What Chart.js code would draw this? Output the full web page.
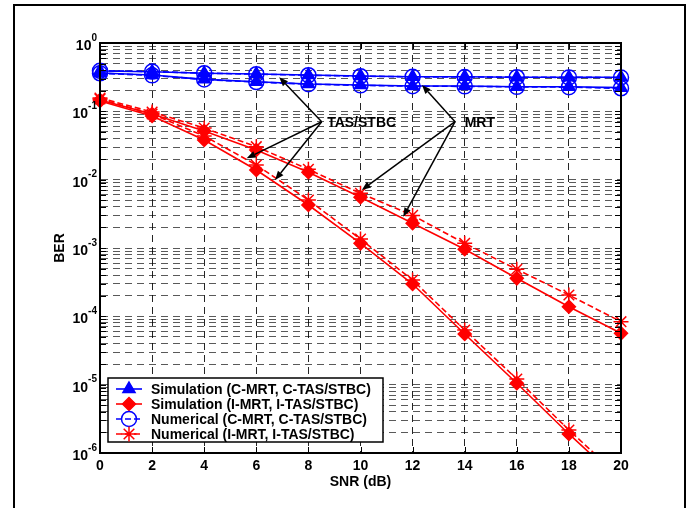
<!DOCTYPE html>
<html><head><meta charset="utf-8">
<script src="https://cdn.jsdelivr.net/npm/chart.js@4.4.1/dist/chart.umd.min.js"></script>
<style>html,body{margin:0;padding:0;background:#fff;}#wrap{width:692px;height:508px;}</style>
</head><body><div id="wrap"><canvas id="c" width="692" height="508"></canvas></div>
<script>
// ---- data ----
const snr = [0, 2, 4, 6, 8, 10, 12, 14, 16, 18, 20];
const xTicks = [0, 2, 4, 6, 8, 10, 12, 14, 16, 18, 20];
const yDecadeExps = [0, -1, -2, -3, -4, -5, -6];

// blue: C-MRT / C-TAS/STBC
const simC_TAS = [0.389, 0.380, 0.360, 0.352, 0.340, 0.329, 0.321, 0.321, 0.315, 0.315, 0.315];
const numC_TAS = [0.392, 0.382, 0.362, 0.350, 0.338, 0.327, 0.320, 0.318, 0.316, 0.314, 0.313];
const simC_MRT = [0.364, 0.340, 0.294, 0.271, 0.251, 0.243, 0.235, 0.235, 0.229, 0.229, 0.222];
const numC_MRT = [0.360, 0.336, 0.292, 0.268, 0.250, 0.240, 0.233, 0.232, 0.228, 0.226, 0.217];
// red: I-MRT / I-TAS/STBC
const simI_TAS = [0.1416, 0.0855, 0.0380, 0.01385, 0.00426, 0.00117, 0.000297, 5.51e-5, 1.05e-5, 1.90e-6, 3.77e-7];
const numI_TAS = [0.1515, 0.0914, 0.0436, 0.0164, 0.00504, 0.00135, 0.000340, 6.31e-5, 1.21e-5, 2.17e-6, 4.3e-7];
const simI_MRT = [0.1466, 0.0914, 0.0515, 0.0272, 0.01282, 0.00552, 0.00230, 0.000958, 0.000360, 0.000138, 5.64e-5];
const numI_MRT = [0.1567, 0.0978, 0.0570, 0.0304, 0.01418, 0.00632, 0.00300, 0.00117, 0.000488, 0.000205, 8.35e-5];

const legendLabels = [
  'Simulation (C-MRT, C-TAS/STBC)',
  'Simulation (I-MRT, I-TAS/STBC)',
  'Numerical (C-MRT, C-TAS/STBC)',
  'Numerical (I-MRT, I-TAS/STBC)'
];
const xTitle = 'SNR (dB)';
const yTitle = 'BER';

// annotation arrows in data space
const annTexts = ['TAS/STBC', 'MRT'];
const annTextAt = [[8.72, 0.067], [14.0, 0.067]];
const annFrom = [[8.51, 0.0705], [13.63, 0.0705]];
const annTo = [
  [[6.88, 0.315], [5.63, 0.0205], [6.72, 0.00989]],
  [[12.36, 0.243], [10.05, 0.00706], [11.64, 0.00287]]
];

// ---- styles ----
const FONT = '"Liberation Sans", Arial, Helvetica, sans-serif';
const kinds = [
  {color: '#0000ff', dash: [], pointStyle: 'triangle', radius: 7, fill: '#0000ff'},
  {color: '#ff0000', dash: [], pointStyle: 'rectRot', radius: 6.5, fill: '#ff0000'},
  {color: '#0000ff', dash: [6, 3], pointStyle: 'circle', radius: 7.5, fill: 'rgba(0,0,0,0)'},
  {color: '#ff0000', dash: [6, 3], pointStyle: 'star', radius: 7.5, fill: '#ff0000'}
];

const yGrid = [];
for (let e = -6; e <= -1; e++) for (let m = 1; m <= 9; m++) yGrid.push(parseFloat((m * Math.pow(10, e)).toPrecision(6)));
yGrid.push(1);

function ds(series, kindIdx, labelIdx, clipBottom) {
  const k = kinds[kindIdx];
  return {
    label: legendLabels[labelIdx],
    data: snr.map((x, i) => ({x: x, y: series[i]})),
    borderColor: k.color,
    borderWidth: 1.6,
    borderDash: k.dash,
    pointStyle: k.pointStyle,
    pointRadius: k.radius,
    pointHoverRadius: k.radius,
    pointBackgroundColor: k.fill,
    pointBorderColor: k.color,
    pointBorderWidth: 1.5,
    fill: false,
    tension: 0,
    clip: clipBottom ? {left: 12, top: 12, right: 12, bottom: 0} : 12
  };
}

function drawMarker(ctx, k, x, y) {
  const r = k.radius;
  ctx.save();
  ctx.setLineDash([]);
  ctx.strokeStyle = k.color; ctx.fillStyle = k.fill; ctx.lineWidth = 1.5;
  ctx.beginPath();
  if (k.pointStyle === 'triangle') {
    let rad = 0;
    ctx.moveTo(x + Math.sin(rad) * r, y - Math.cos(rad) * r);
    rad += 2 * Math.PI / 3; ctx.lineTo(x + Math.sin(rad) * r, y - Math.cos(rad) * r);
    rad += 2 * Math.PI / 3; ctx.lineTo(x + Math.sin(rad) * r, y - Math.cos(rad) * r);
    ctx.closePath(); ctx.fill(); ctx.stroke();
  } else if (k.pointStyle === 'rectRot') {
    ctx.moveTo(x - r, y); ctx.lineTo(x, y - r); ctx.lineTo(x + r, y); ctx.lineTo(x, y + r);
    ctx.closePath(); ctx.fill(); ctx.stroke();
  } else if (k.pointStyle === 'circle') {
    ctx.arc(x, y, r, 0, Math.PI * 2); ctx.stroke();
  } else {
    ctx.moveTo(x - r, y); ctx.lineTo(x + r, y);
    ctx.moveTo(x, y - r); ctx.lineTo(x, y + r);
    const d = r * Math.SQRT1_2;
    ctx.moveTo(x - d, y - d); ctx.lineTo(x + d, y + d);
    ctx.moveTo(x - d, y + d); ctx.lineTo(x + d, y - d);
    ctx.stroke();
  }
  ctx.restore();
}

function arrow(ctx, x0, y0, x1, y1) {
  const ang = Math.atan2(y1 - y0, x1 - x0);
  const L = 9, W = 3.5;
  const bx = x1 - Math.cos(ang) * L, by = y1 - Math.sin(ang) * L;
  ctx.beginPath(); ctx.moveTo(x0, y0); ctx.lineTo(bx, by); ctx.stroke();
  ctx.beginPath();
  ctx.moveTo(x1, y1);
  ctx.lineTo(bx + Math.sin(ang) * W, by - Math.cos(ang) * W);
  ctx.lineTo(bx - Math.sin(ang) * W, by + Math.cos(ang) * W);
  ctx.closePath(); ctx.fill();
}

const decor = {
  id: 'decor',
  afterDraw(chart) {
    const {ctx, chartArea: a, scales: {x, y}} = chart;
    ctx.save();
    ctx.setLineDash([]);
    // inward ticks
    ctx.strokeStyle = '#000'; ctx.lineWidth = 1;
    ctx.beginPath();
    xTicks.forEach(v => {
      const px = Math.round(x.getPixelForValue(v)) + 0.5;
      ctx.moveTo(px, a.bottom); ctx.lineTo(px, a.bottom - 6);
      ctx.moveTo(px, a.top); ctx.lineTo(px, a.top + 6);
    });
    yGrid.forEach(v => {
      const py = Math.round(y.getPixelForValue(v)) + 0.5;
      ctx.moveTo(a.left, py); ctx.lineTo(a.left + 6, py);
      ctx.moveTo(a.right, py); ctx.lineTo(a.right - 6, py);
    });
    ctx.stroke();
    // axes box
    ctx.lineWidth = 2;
    ctx.strokeRect(a.left, a.top, a.right - a.left, a.bottom - a.top);

    // y tick labels 10^n
    ctx.fillStyle = '#000';
    ctx.textBaseline = 'alphabetic';
    yDecadeExps.forEach(e => {
      const py = y.getPixelForValue(Math.pow(10, e));
      const sup = String(e);
      ctx.font = 'bold 10px ' + FONT;
      const w2 = ctx.measureText(sup).width;
      ctx.font = 'bold 14px ' + FONT;
      const w1 = ctx.measureText('10').width;
      const right = a.left - 3;
      ctx.textAlign = 'left';
      ctx.fillText('10', right - w2 - w1, py + 7);
      ctx.font = 'bold 10px ' + FONT;
      ctx.fillText(sup, right - w2, py - 2.5);
    });

    // annotations
    ctx.strokeStyle = '#000'; ctx.fillStyle = '#000'; ctx.lineWidth = 1.5;
    annTexts.forEach((t, i) => {
      const ox = x.getPixelForValue(annFrom[i][0]), oy = y.getPixelForValue(annFrom[i][1]);
      annTo[i].forEach(p => arrow(ctx, ox, oy, x.getPixelForValue(p[0]), y.getPixelForValue(p[1])));
      ctx.font = 'bold 14px ' + FONT;
      ctx.textAlign = 'left'; ctx.textBaseline = 'middle';
      ctx.fillText(t, x.getPixelForValue(annTextAt[i][0]), y.getPixelForValue(annTextAt[i][1]));
    });

    // legend
    const lx = a.left + 8, ly = a.bottom - 75, lw = 275, lh = 64;
    ctx.fillStyle = '#fff';
    ctx.fillRect(lx, ly, lw, lh);
    ctx.strokeStyle = '#000'; ctx.lineWidth = 1.5;
    ctx.strokeRect(lx, ly, lw, lh);
    legendLabels.forEach((lab, i) => {
      const k = kinds[i];
      const ry = ly + 11 + i * 15;
      ctx.save();
      ctx.strokeStyle = k.color; ctx.lineWidth = 1.6; ctx.setLineDash(k.dash);
      ctx.beginPath(); ctx.moveTo(lx + 8, ry); ctx.lineTo(lx + 34, ry); ctx.stroke();
      ctx.restore();
      drawMarker(ctx, k, lx + 21, ry);
      ctx.fillStyle = '#000';
      ctx.font = 'bold 14px ' + FONT;
      ctx.textAlign = 'left'; ctx.textBaseline = 'middle';
      ctx.fillText(lab, lx + 43, ry + 1);
    });

    // outer frame
    ctx.strokeStyle = '#000'; ctx.lineWidth = 2; ctx.setLineDash([]);
    ctx.beginPath();
    ctx.moveTo(14, 508); ctx.lineTo(14, 5); ctx.lineTo(685, 5); ctx.lineTo(685, 508);
    ctx.stroke();
    ctx.restore();
  }
};

new Chart(document.getElementById('c'), {
  type: 'line',
  data: {
    datasets: [
      ds(simC_TAS, 0, 0), ds(simC_MRT, 0, 0),
      ds(numC_TAS, 2, 2), ds(numC_MRT, 2, 2),
      ds(simI_MRT, 1, 1), ds(numI_MRT, 3, 3),
      ds(simI_TAS, 1, 1, true), ds(numI_TAS, 3, 3, true)
    ]
  },
  options: {
    responsive: false,
    animation: false,
    events: [],
    layout: {padding: {top: 43, right: 71, left: 0, bottom: 0}},
    plugins: {legend: {display: false}, tooltip: {enabled: false}, title: {display: false}},
    scales: {
      x: {
        type: 'linear', min: 0, max: 20,
        afterBuildTicks: s => { s.ticks = xTicks.map(v => ({value: v})); },
        afterFit: s => { s.height = 55; },
        ticks: {autoSkip: false, maxRotation: 0, padding: 5, color: '#000', font: {family: FONT, size: 14, weight: 'bold'}},
        grid: {color: 'rgba(0,0,0,0.85)', lineWidth: 1, drawTicks: false},
        border: {display: true, color: '#000', width: 2, dash: [7, 5]},
        title: {display: true, text: xTitle, color: '#000', font: {family: FONT, size: 14, weight: 'bold'}, padding: {top: 0, bottom: 17}}
      },
      y: {
        type: 'logarithmic', min: 1e-6, max: 1,
        afterBuildTicks: s => { s.ticks = yGrid.map(v => ({value: v})); },
        afterFit: s => { s.width = 100; },
        ticks: {display: false, autoSkip: false},
        grid: {color: 'rgba(0,0,0,0.65)', lineWidth: 1, drawTicks: false},
        border: {display: true, color: '#000', width: 2, dash: [7, 5]},
        title: {display: true, text: yTitle, color: '#000', font: {family: FONT, size: 14, weight: 'bold'}, padding: {top: 52, bottom: 0}}
      }
    }
  },
  plugins: [decor]
});
</script>
</body></html>
